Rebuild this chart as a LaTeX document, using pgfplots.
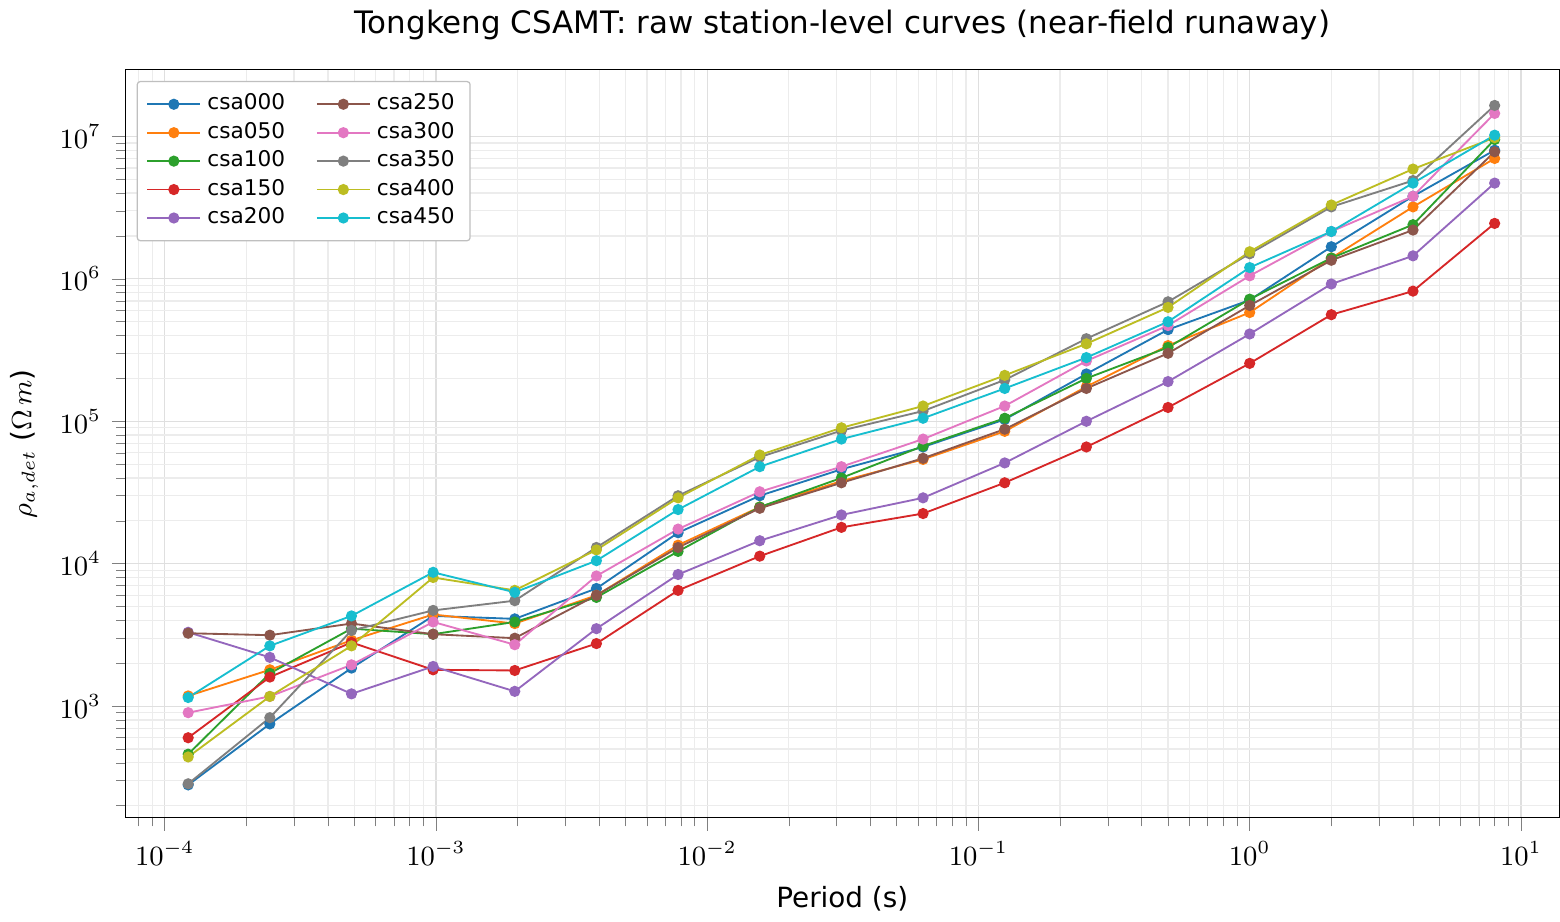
\documentclass[border=0pt]{standalone}
\usepackage{pgfplots}
\usepackage{pgfplotstable}
\pgfplotsset{compat=1.18}
\usepackage{fontspec}
\setmainfont{DejaVu Sans}
\definecolor{c0}{HTML}{1F77B4}\definecolor{c1}{HTML}{FF7F0E}\definecolor{c2}{HTML}{2CA02C}
\definecolor{c3}{HTML}{D62728}\definecolor{c4}{HTML}{9467BD}\definecolor{c5}{HTML}{8C564B}
\definecolor{c6}{HTML}{E377C2}\definecolor{c7}{HTML}{7F7F7F}\definecolor{c8}{HTML}{BCBD22}
\definecolor{c9}{HTML}{17BECF}
\pgfplotstableread{
p a b c d e f g h i j
0.00012207 280 1180 460 600 3300 3250 900 285 440 1150
0.00024414 750 1800 1700 1600 2200 3150 1170 830 1170 2650
0.00048828 1850 2900 3500 2800 1220 3800 1950 3400 2650 4300
0.00097656 4300 4400 3200 1800 1900 3200 3900 4700 8000 8700
0.00195313 4100 3800 3900 1780 1270 3000 2700 5500 6500 6300
0.00390625 6700 6000 5800 2750 3500 6000 8200 13000 12500 10500
0.0078125 16500 13500 12200 6500 8400 13000 17500 30000 29000 24000
0.015625 30000 25000 25000 11300 14500 24500 32000 56000 58000 48000
0.03125 46000 38000 40000 18000 22000 37000 48000 86000 90000 75000
0.0625 66000 54000 67000 22500 29000 55000 75000 118000 128000 105000
0.125 103000 85000 105000 37000 51000 88000 128000 195000 210000 170000
0.25 215000 175000 200000 66000 100000 170000 265000 380000 350000 280000
0.5 440000 340000 330000 125000 190000 300000 470000 690000 630000 500000
1 710000 580000 720000 255000 410000 650000 1050000 1500000 1550000 1200000
2 1680000 1400000 1400000 560000 920000 1350000 2150000 3200000 3300000 2150000
4 3800000 3200000 2400000 820000 1450000 2200000 3800000 4900000 5900000 4700000
8 8000000 7000000 9500000 2450000 4700000 7800000 14500000 16500000 9800000 10200000
}\data
\begin{document}
\begin{tikzpicture}
\begin{loglogaxis}[
  width=16.3cm, height=8.5cm, scale only axis,
  xmin=7.15e-5, xmax=13.86, ymin=165, ymax=2.94e7,
  title={Tongkeng CSAMT: raw station-level curves (near-field runaway)},
  title style={font=\normalsize},
  label style={font=\small}, tick label style={font=\small},
  xlabel={Period (s)}, ylabel={$\rho_{a,det}$ ($\Omega\,m$)},
  grid=both, major grid style={gray!25}, minor grid style={gray!15},
  tick align=outside, tick pos=left,
  legend columns=5, transpose legend,
  legend style={font=\fontsize{7}{8}\selectfont, draw=gray!50, rounded corners=1pt, row sep=-1.5pt, at={(0.008,0.985)}, anchor=north west, /tikz/every even column/.append style={column sep=8pt}},
  legend cell align=left,
  every axis plot/.append style={semithick, mark=*, mark size=1.5pt},
]
\addplot[c0] table[x=p,y=a]{\data}; \addlegendentry{csa000}
\addplot[c1] table[x=p,y=b]{\data}; \addlegendentry{csa050}
\addplot[c2] table[x=p,y=c]{\data}; \addlegendentry{csa100}
\addplot[c3] table[x=p,y=d]{\data}; \addlegendentry{csa150}
\addplot[c4] table[x=p,y=e]{\data}; \addlegendentry{csa200}
\addplot[c5] table[x=p,y=f]{\data}; \addlegendentry{csa250}
\addplot[c6] table[x=p,y=g]{\data}; \addlegendentry{csa300}
\addplot[c7] table[x=p,y=h]{\data}; \addlegendentry{csa350}
\addplot[c8] table[x=p,y=i]{\data}; \addlegendentry{csa400}
\addplot[c9] table[x=p,y=j]{\data}; \addlegendentry{csa450}
\end{loglogaxis}
\end{tikzpicture}
\end{document}
